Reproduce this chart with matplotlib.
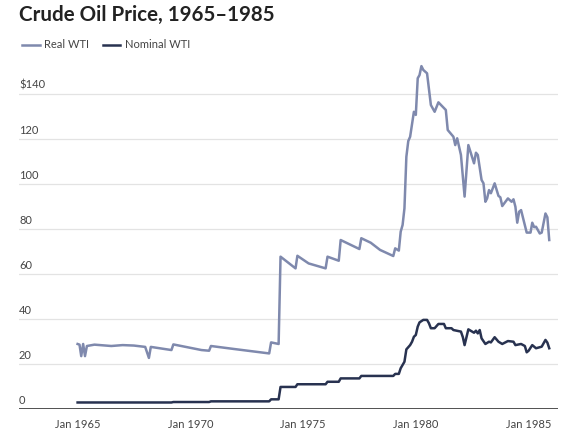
import pandas as pd
import matplotlib.pyplot as plt
import matplotlib.dates as mdates
import matplotlib.transforms as mtransforms


# Real WTI (inflation adjusted), vertices
REAL_DATES = [
    "1965-01", "1965-02", "1965-03", "1965-04", "1965-05", "1965-06",
    "1965-10", "1966-07", "1967-01", "1967-07", "1968-01", "1968-03",
    "1968-04", "1969-03", "1969-04", "1970-07", "1970-11", "1970-12",
    "1971-12", "1973-07", "1973-08", "1973-12", "1974-01", "1974-09",
    "1974-10", "1975-04", "1976-01", "1976-02", "1976-08", "1976-09",
    "1977-07", "1977-08", "1978-01", "1978-06", "1979-01", "1979-02",
    "1979-04", "1979-05", "1979-06", "1979-07", "1979-08", "1979-09",
    "1979-10", "1979-12", "1980-01", "1980-02", "1980-03", "1980-04",
    "1980-05", "1980-07", "1980-09", "1980-11", "1981-01", "1981-05",
    "1981-06", "1981-09", "1981-10", "1981-11", "1982-01", "1982-03",
    "1982-05", "1982-08", "1982-09", "1982-10", "1982-12", "1983-01",
    "1983-02", "1983-03", "1983-04", "1983-05", "1983-07", "1983-09",
    "1983-10", "1983-11", "1984-02", "1984-04", "1984-05", "1984-06",
    "1984-07", "1984-08", "1984-09", "1984-12", "1985-02", "1985-03",
    "1985-04", "1985-05", "1985-07", "1985-08", "1985-10", "1985-11",
    "1985-12",
]
REAL_WTI = [
    28.9, 28.6, 23.5, 28.9, 23.5, 28.0,
    28.6, 28.0, 28.4, 28.2, 27.6, 22.7,
    27.6, 26.2, 28.7, 26.2, 25.9, 28.0,
    26.7, 24.7, 29.6, 28.9, 67.7, 62.5,
    68.1, 64.7, 62.5, 67.7, 65.9, 75.1,
    71.1, 75.9, 73.9, 70.7, 68.0, 71.4,
    70.4, 78.8, 81.8, 89.2, 112.1, 119.1,
    121.0, 132.1, 130.7, 147.0, 148.4, 152.4,
    150.7, 149.2, 135.1, 132.1, 136.3, 132.9,
    124.0, 121.0, 117.3, 120.3, 112.9, 94.4,
    117.3, 109.2, 113.9, 112.9, 101.8, 100.3,
    92.1, 93.6, 97.3, 95.9, 100.3, 94.7,
    94.1, 90.2, 93.6, 92.1, 93.2, 89.9,
    82.8, 87.7, 88.4, 78.4, 78.4, 82.8,
    80.8, 81.0, 78.0, 78.4, 86.9, 85.2,
    75.1,
]

# Nominal WTI, vertices
NOMINAL_DATES = [
    "1965-01", "1969-03", "1969-04", "1970-11", "1970-12", "1973-07",
    "1973-08", "1973-12", "1974-01", "1974-09", "1974-10", "1976-01",
    "1976-02", "1976-08", "1976-09", "1977-07", "1977-08", "1979-01",
    "1979-02", "1979-04", "1979-05", "1979-07", "1979-08", "1979-10",
    "1979-11", "1979-12", "1980-01", "1980-02", "1980-03", "1980-05",
    "1980-07", "1980-08", "1980-09", "1980-11", "1981-01", "1981-04",
    "1981-05", "1981-08", "1981-09", "1982-01", "1982-02", "1982-03",
    "1982-05", "1982-08", "1982-09", "1982-10", "1982-11", "1982-12",
    "1983-02", "1983-04", "1983-05", "1983-07", "1983-09", "1983-11",
    "1984-02", "1984-05", "1984-06", "1984-09", "1984-11", "1984-12",
    "1985-01", "1985-03", "1985-05", "1985-08", "1985-10", "1985-11",
    "1985-12",
]
NOMINAL_WTI = [
    2.9, 2.9, 3.1, 3.1, 3.4, 3.4,
    4.3, 4.3, 9.8, 9.8, 11.0, 11.0,
    12.1, 12.1, 13.6, 13.6, 14.7, 14.7,
    15.6, 15.6, 18.1, 21.0, 26.5, 28.4,
    29.9, 32.1, 32.9, 36.6, 38.5, 39.6,
    39.6, 38.1, 35.9, 35.9, 37.8, 37.8,
    35.9, 35.9, 35.1, 34.4, 31.9, 28.4,
    35.4, 33.9, 34.8, 33.6, 35.1, 31.4,
    28.9, 29.9, 29.6, 31.9, 29.9, 28.9,
    30.2, 29.9, 28.4, 28.9, 28.0, 25.2,
    25.9, 28.4, 27.0, 27.7, 30.7, 29.5,
    27.0,
]

Y_TICKS = [0, 20, 40, 60, 80, 100, 120, 140]
Y_LABELS = ["0", "20", "40", "60", "80", "100", "120", "$140"]
X_TICK_YEARS = [1965, 1970, 1975, 1980, 1985]

REAL_COLOR = "#7f89ad"
NOMINAL_COLOR = "#283250"

plt.rcParams["font.family"] = ["Lato", "DejaVu Sans"]

fig = plt.figure(figsize=(5.71, 4.40), dpi=100)
ax = fig.add_axes([19 / 571, 31 / 440, 539 / 571, 360 / 440])

real_x = pd.to_datetime(REAL_DATES)
nominal_x = pd.to_datetime(NOMINAL_DATES)

ax.plot(real_x, REAL_WTI, color=REAL_COLOR, lw=1.8, label="Real WTI",
        solid_joinstyle="round")
ax.plot(nominal_x, NOMINAL_WTI, color=NOMINAL_COLOR, lw=1.8, label="Nominal WTI",
        solid_joinstyle="round")

ax.set_ylim(0, 160)
ax.set_xlim(pd.Timestamp("1962-05-28"), pd.Timestamp("1986-04-22"))

# gridlines and y labels sitting above them
for v in Y_TICKS[1:]:
    ax.axhline(v, color="#e3e3e3", lw=0.9, zorder=0)
ax.axhline(0, color="#333333", lw=1.2, zorder=3)

offset = mtransforms.ScaledTranslation(0, 3 / 100, fig.dpi_scale_trans)
trans = mtransforms.blended_transform_factory(ax.transAxes, ax.transData) + offset
for v, lab in zip(Y_TICKS, Y_LABELS):
    ax.text(0, v, lab, transform=trans, ha="left", va="bottom",
            fontsize=8, color="#444444")

ax.set_yticks([])
ax.set_xticks([pd.Timestamp(f"{y}-01-01") for y in X_TICK_YEARS])
ax.xaxis.set_major_formatter(mdates.DateFormatter("Jan %Y"))
ax.tick_params(axis="x", length=0, pad=7, labelsize=8, labelcolor="#444444")

for s in ax.spines.values():
    s.set_visible(False)

fig.text(19 / 571, 1 - 15 / 440, "Crude Oil Price, 1965–1985", ha="left", va="center",
         fontsize=14.8, fontweight="bold", color="#222222")

fig.legend(loc="center left", bbox_to_anchor=(12 / 571, 1 - 45 / 440), ncol=2,
           frameon=False, fontsize=8, handlelength=1.6, handletextpad=0.4,
           columnspacing=1.2, labelcolor="#444444")

fig.savefig("out.png", dpi=100)
